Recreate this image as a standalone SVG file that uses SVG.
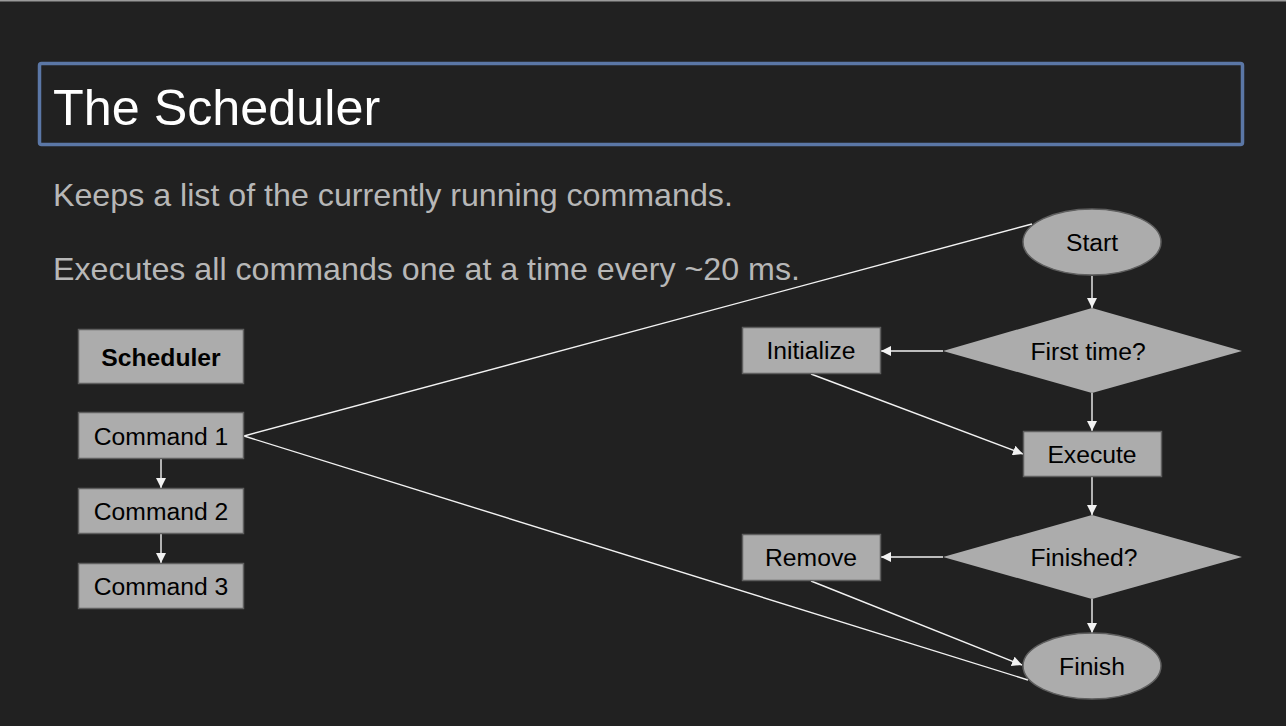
<svg xmlns="http://www.w3.org/2000/svg" width="1286" height="726" viewBox="0 0 1286 726">
<defs>
<style>
.bg{fill:#212121}
.node{fill:#acacac;stroke:#5f5f5f;stroke-width:1.5}
.dia{fill:#acacac;stroke:none}
.lbl{font-family:"Liberation Sans",Arial,sans-serif;font-size:24.7px;fill:#000;text-anchor:middle}
.bold{font-weight:bold}
.body{font-family:"Liberation Sans",Arial,sans-serif;font-size:32.2px;fill:#b7b7b7}
.edge{stroke:#f2f2f2;stroke-width:1.4;fill:none}
</style>
<marker id="ah" viewBox="0 0 10 10" refX="10" refY="5" markerWidth="10" markerHeight="10" markerUnits="userSpaceOnUse" orient="auto">
<path d="M0,0 L10,5 L0,10 z" fill="#f2f2f2"/>
</marker>
</defs>
<rect class="bg" x="0" y="0" width="1286" height="726"/>
<rect x="0" y="0" width="1286" height="1.5" fill="#9a9a9a"/>
<g id="title">
<rect x="39.5" y="63.5" width="1203" height="81" rx="2" fill="none" stroke="#5b77a6" stroke-width="3.5"/>
<text x="53" y="125" font-family="Liberation Sans, Arial, sans-serif" font-size="50.3" fill="#ffffff">The Scheduler</text>
</g>
<g id="body">
<text class="body" x="53" y="206">Keeps a list of the currently running commands.</text>
<text class="body" x="53" y="280">Executes all commands one at a time every ~20 ms.</text>
</g>
<g id="connectors">
<line class="edge" x1="161" y1="459" x2="161" y2="488" marker-end="url(#ah)"/>
<line class="edge" x1="161" y1="534" x2="161" y2="563" marker-end="url(#ah)"/>
<line class="edge" x1="244" y1="436" x2="1032" y2="224"/>
<line class="edge" x1="244" y1="436" x2="1028" y2="680"/>
<line class="edge" x1="1092" y1="276" x2="1092" y2="308" marker-end="url(#ah)"/>
<line class="edge" x1="943" y1="351" x2="881" y2="351" marker-end="url(#ah)"/>
<line class="edge" x1="811" y1="374" x2="1023" y2="454" marker-end="url(#ah)"/>
<line class="edge" x1="1092" y1="393" x2="1092" y2="431" marker-end="url(#ah)"/>
<line class="edge" x1="1092" y1="477" x2="1092" y2="515" marker-end="url(#ah)"/>
<line class="edge" x1="943" y1="557" x2="881" y2="557" marker-end="url(#ah)"/>
<line class="edge" x1="811" y1="581" x2="1022" y2="665" marker-end="url(#ah)"/>
<line class="edge" x1="1092" y1="599" x2="1092" y2="633" marker-end="url(#ah)"/>
</g>
<g id="scheduler">
<rect class="node" x="78.5" y="329.5" width="165" height="54"/>
<text class="lbl bold" x="161" y="366">Scheduler</text>
</g>
<g id="command1">
<rect class="node" x="78.5" y="412.5" width="165" height="46"/>
<text class="lbl" x="161" y="445">Command 1</text>
</g>
<g id="command2">
<rect class="node" x="78.5" y="488.5" width="165" height="45"/>
<text class="lbl" x="161" y="520">Command 2</text>
</g>
<g id="command3">
<rect class="node" x="78.5" y="563.5" width="165" height="45"/>
<text class="lbl" x="161" y="595">Command 3</text>
</g>
<g id="start">
<ellipse class="node" cx="1092" cy="242" rx="69" ry="33"/>
<text class="lbl" x="1092" y="251">Start</text>
</g>
<g id="firsttime">
<polygon class="dia" points="1092,308 1242,351 1092,393 943,351"/>
<text class="lbl" x="1088" y="360">First time?</text>
</g>
<g id="initialize">
<rect class="node" x="742.5" y="327.5" width="138" height="46"/>
<text class="lbl" x="811" y="359">Initialize</text>
</g>
<g id="execute">
<rect class="node" x="1023.5" y="431.5" width="138" height="45"/>
<text class="lbl" x="1092" y="463">Execute</text>
</g>
<g id="finished">
<polygon class="dia" points="1092,515 1242,557 1092,599 943,557"/>
<text class="lbl" x="1084" y="566">Finished?</text>
</g>
<g id="remove">
<rect class="node" x="742.5" y="534.5" width="138" height="46"/>
<text class="lbl" x="811" y="566">Remove</text>
</g>
<g id="finish">
<ellipse class="node" cx="1092" cy="666" rx="69" ry="33"/>
<text class="lbl" x="1092" y="675">Finish</text>
</g>
</svg>
